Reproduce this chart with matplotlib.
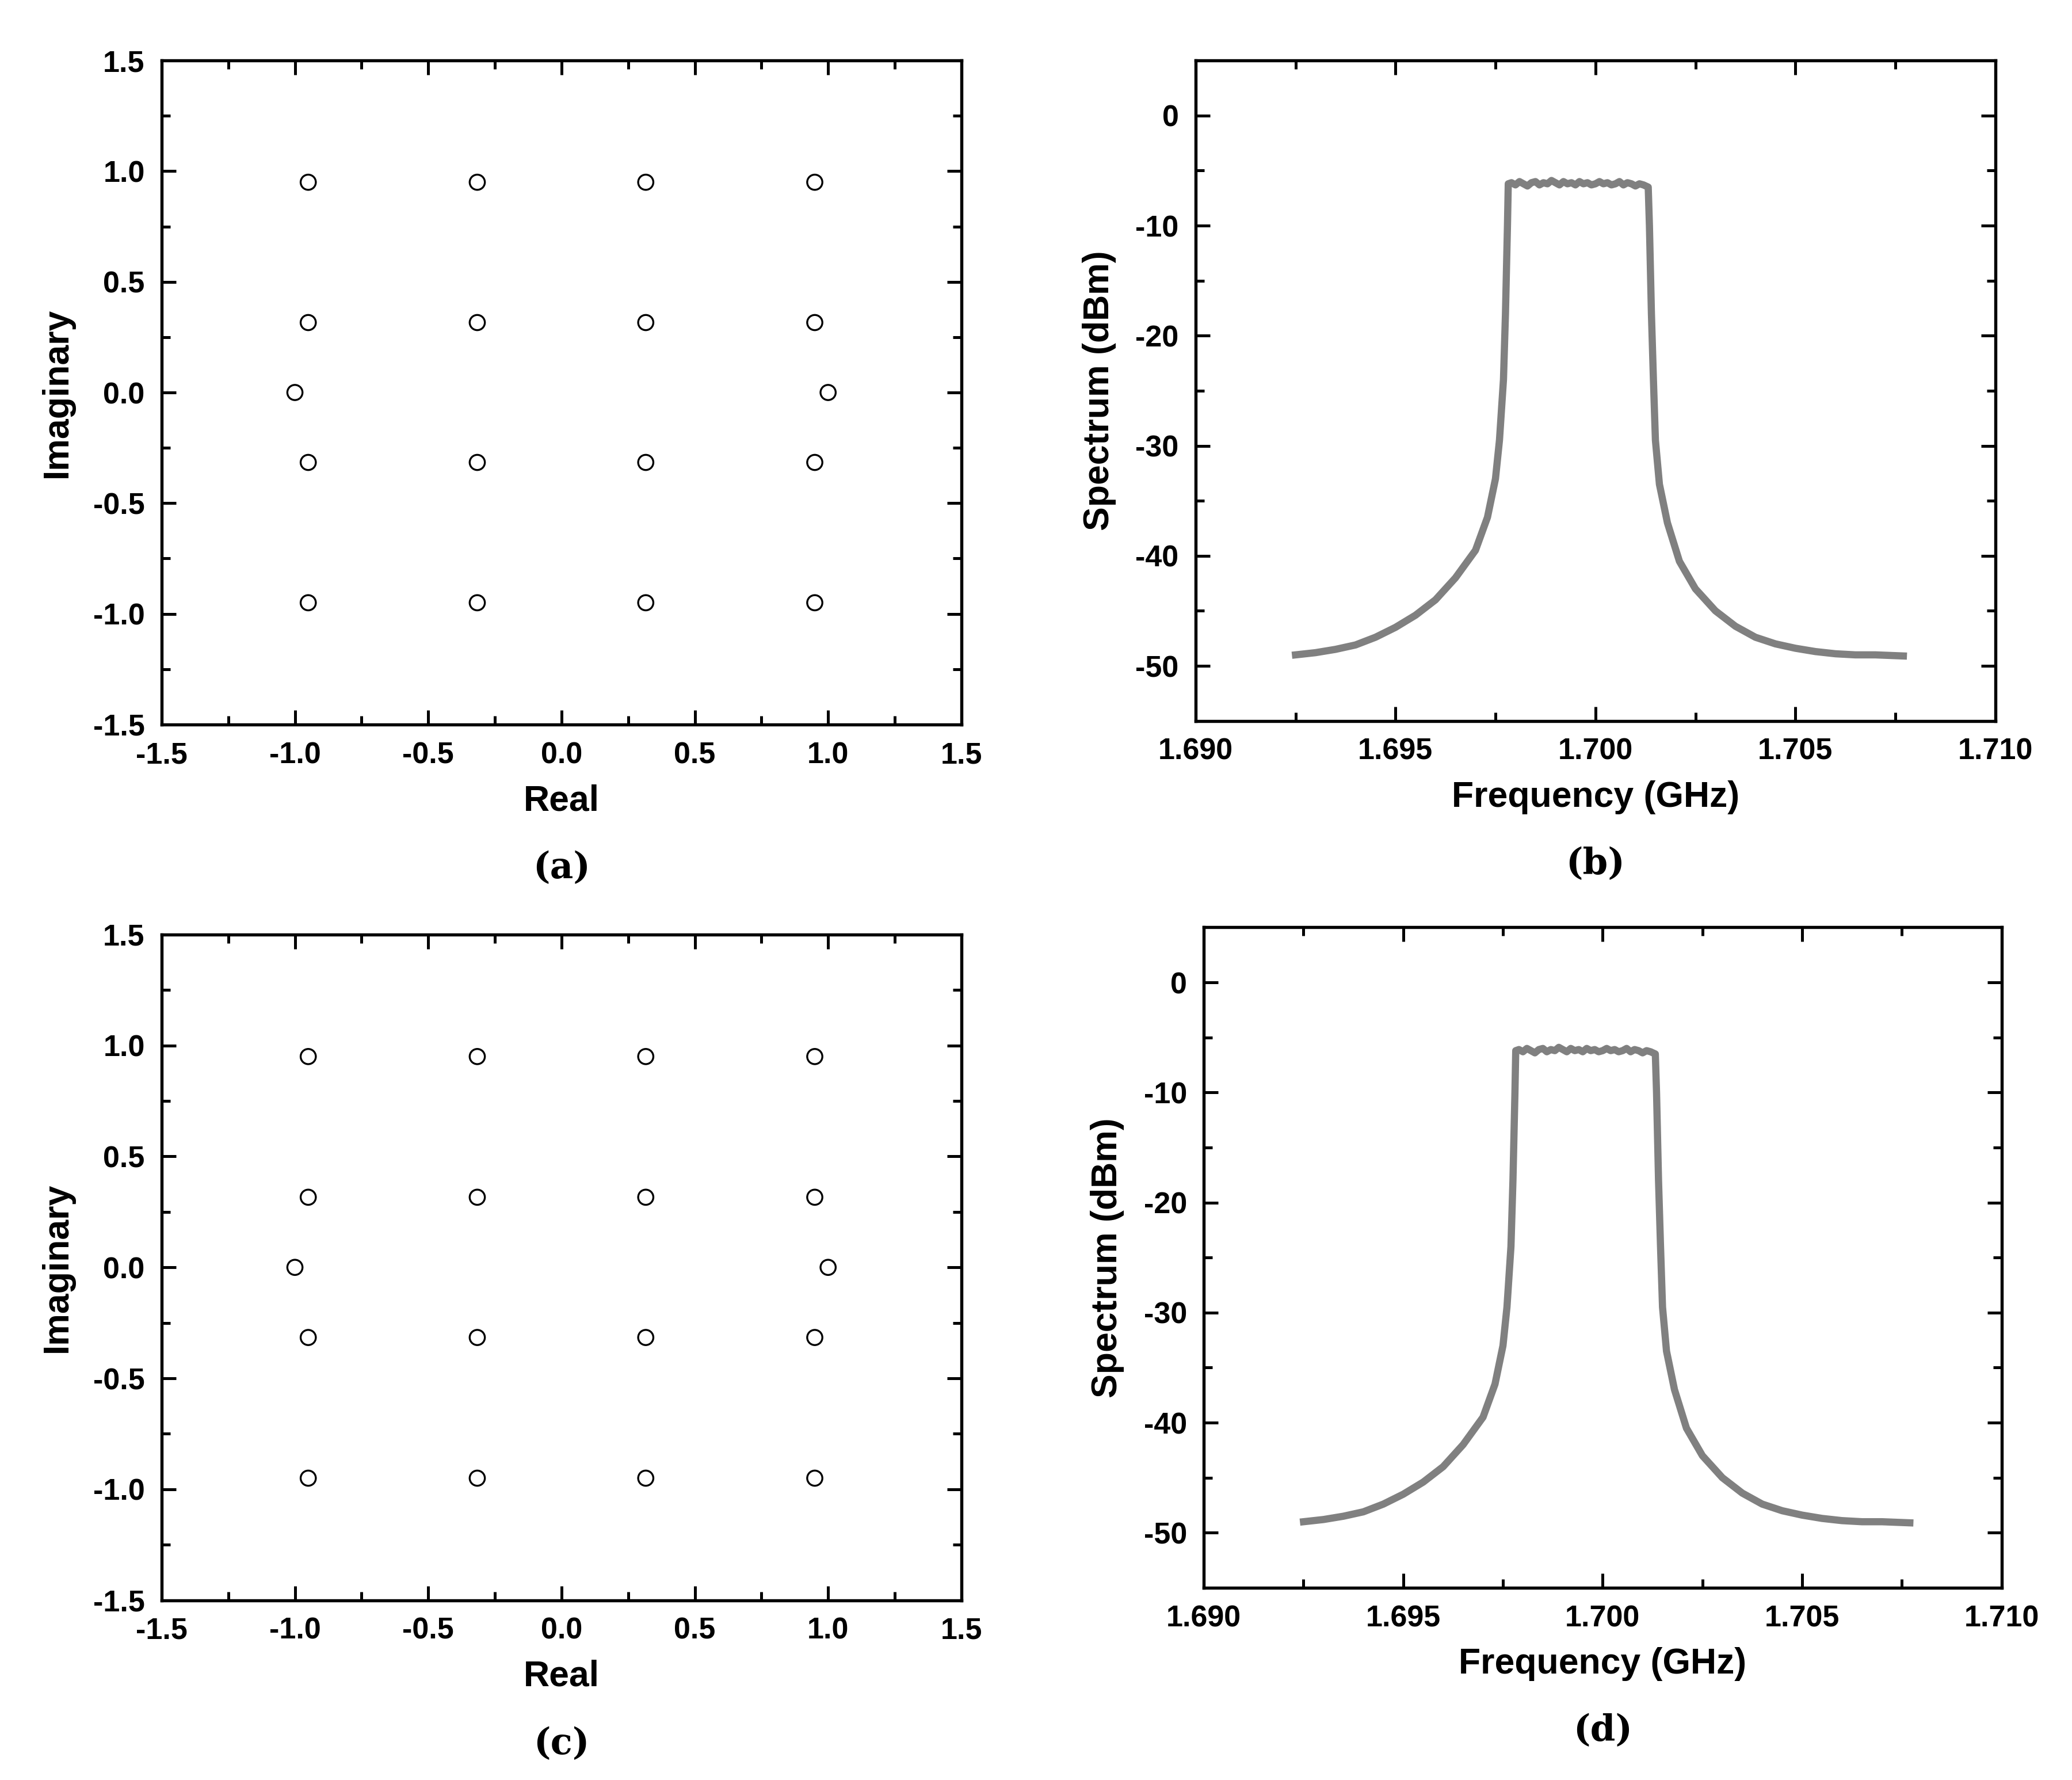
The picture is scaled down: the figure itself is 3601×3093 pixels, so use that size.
import matplotlib
matplotlib.use("Agg")
import matplotlib.pyplot as plt
from matplotlib.ticker import MultipleLocator

# constellation points
const_re = [-0.95, -0.316, 0.316, 0.95, -0.95, -0.316, 0.316, 0.95, -1.0, 1.0,
            -0.95, -0.316, 0.316, 0.95, -0.95, -0.316, 0.316, 0.95]
const_im = [0.95, 0.95, 0.95, 0.95, 0.316, 0.316, 0.316, 0.316, 0.0, 0.0,
            -0.316, -0.316, -0.316, -0.316, -0.95, -0.95, -0.95, -0.95]

# spectrum
freq_ghz = [1.6925, 1.6930, 1.6935, 1.6940, 1.6945, 1.6950, 1.6955, 1.6960, 1.6965,
            1.6970, 1.6973, 1.6975, 1.6976, 1.6977, 1.69775, 1.6978, 1.69782,
            1.6979, 1.6980, 1.6981, 1.6982, 1.6983, 1.6984, 1.6985, 1.6986, 1.6987,
            1.6988, 1.6989, 1.6990, 1.6991, 1.6992, 1.6993, 1.6994, 1.6995, 1.6996,
            1.6997, 1.6998, 1.6999, 1.7000, 1.7001, 1.7002, 1.7003, 1.7004, 1.7005,
            1.7006, 1.7007, 1.7008, 1.7009, 1.7010, 1.7011, 1.7012, 1.70132,
            1.70135, 1.7014, 1.70145, 1.7015, 1.7016, 1.7018, 1.7021, 1.7025, 1.7030,
            1.7035, 1.7040, 1.7045, 1.7050, 1.7055, 1.7060, 1.7065, 1.7070, 1.7077]
spec_dbm = [-49.0, -48.8, -48.5, -48.1, -47.4, -46.5, -45.4, -44.0, -42.0,
            -39.5, -36.5, -33.0, -29.5, -24.0, -18.0, -10.0, -6.2,
            -6.1, -6.3, -6.0, -6.2, -6.4, -6.1, -6.0, -6.3, -6.1,
            -6.2, -5.9, -6.1, -6.3, -6.0, -6.2, -6.1, -6.3, -6.0,
            -6.2, -6.1, -6.3, -6.2, -6.0, -6.2, -6.1, -6.3, -6.2,
            -6.0, -6.3, -6.1, -6.2, -6.4, -6.2, -6.3, -6.5,
            -10.0, -18.0, -24.0, -29.5, -33.5, -37.0, -40.5, -43.0, -45.0,
            -46.4, -47.4, -48.0, -48.4, -48.7, -48.9, -49.0, -49.0, -49.1]

plt.rcParams['font.family'] = ['Liberation Sans', 'DejaVu Sans']
plt.rcParams['font.weight'] = 'bold'
plt.rcParams['axes.labelweight'] = 'bold'
plt.rcParams['axes.unicode_minus'] = False

fig = plt.figure(figsize=(3601 / 300, 3093 / 300), dpi=300)
boxes = {
    'a': [0.078, 0.593, 0.386, 0.373],
    'b': [0.577, 0.595, 0.386, 0.371],
    'c': [0.078, 0.101, 0.386, 0.374],
    'd': [0.581, 0.108, 0.385, 0.371],
}


def style(ax):
    for s in ax.spines.values():
        s.set_linewidth(1.3)
    ax.tick_params(which='both', direction='in', top=True, right=True, labelsize=12.5, width=1.2, pad=7)
    ax.tick_params(which='major', length=6)
    ax.tick_params(which='minor', length=3.5)


for key in ['a', 'c']:
    ax = fig.add_axes(boxes[key])
    ax.scatter(const_re, const_im, s=40, facecolors='none', edgecolors='black', linewidths=0.8)
    ax.set_xlim(-1.5, 1.5)
    ax.set_ylim(-1.5, 1.5)
    ax.xaxis.set_major_locator(MultipleLocator(0.5))
    ax.yaxis.set_major_locator(MultipleLocator(0.5))
    ax.xaxis.set_minor_locator(MultipleLocator(0.25))
    ax.yaxis.set_minor_locator(MultipleLocator(0.25))
    ax.xaxis.set_major_formatter('{x:.1f}')
    ax.yaxis.set_major_formatter('{x:.1f}')
    ax.set_xlabel('Real', fontsize=15, labelpad=6)
    ax.set_ylabel('Imaginary', fontsize=15, labelpad=8)
    style(ax)
    ax.text(0.5, -0.19, f'({key})', transform=ax.transAxes, ha='center', va='top',
            fontsize=15, family='DejaVu Serif', fontweight='bold')

for key in ['b', 'd']:
    ax = fig.add_axes(boxes[key])
    ax.plot(freq_ghz, spec_dbm, color='#808080', lw=3)
    ax.set_xlim(1.690, 1.710)
    ax.set_ylim(-55, 5)
    ax.xaxis.set_major_locator(MultipleLocator(0.005))
    ax.xaxis.set_minor_locator(MultipleLocator(0.0025))
    ax.yaxis.set_major_locator(MultipleLocator(10))
    ax.yaxis.set_minor_locator(MultipleLocator(5))
    ax.xaxis.set_major_formatter('{x:.3f}')
    ax.set_xlabel('Frequency (GHz)', fontsize=15, labelpad=6)
    ax.set_ylabel('Spectrum (dBm)', fontsize=15, labelpad=8)
    style(ax)
    ax.text(0.5, -0.19, f'({key})', transform=ax.transAxes, ha='center', va='top',
            fontsize=15, family='DejaVu Serif', fontweight='bold')

fig.savefig('out.png', dpi=300)
